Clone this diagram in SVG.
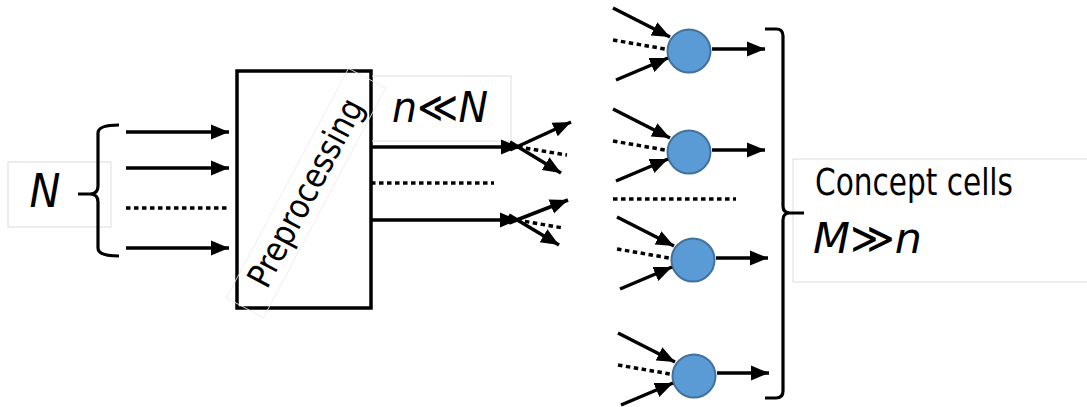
<svg xmlns="http://www.w3.org/2000/svg" width="1087" height="407" viewBox="0 0 1087 407">
<style>
.ln{stroke:#000;stroke-width:3.5;fill:none}
.ar{stroke:#000;stroke-width:3.5;fill:none;marker-end:url(#ah)}
.dt{stroke:#000;stroke-width:3.5;fill:none;stroke-dasharray:4.5 3.5}
.br{stroke:#000;stroke-width:3.2;fill:none;stroke-linejoin:round}
.bx{stroke:#dcdcdc;stroke-width:1;fill:none}
.cell{fill:#5b9bd5;stroke:#41719c;stroke-width:2}
.t{font-family:"DejaVu Sans Condensed","DejaVu Sans",sans-serif;font-stretch:condensed;fill:#000}
.it{font-style:italic}
</style>
<defs>
<marker id="ah" markerUnits="userSpaceOnUse" markerWidth="19" markerHeight="16" refX="18" refY="8" orient="auto">
<path d="M0,0.5 L18,8 L0,15.5 z" fill="#000"/>
</marker>
</defs>
<rect width="1087" height="407" fill="#fff"/>

<g id="label-N">
<rect class="bx" x="8" y="162" width="103" height="65"/>
<text class="t it" x="45" y="207" font-size="46" text-anchor="middle">N</text>
</g>

<g id="preprocessing">
<rect x="237" y="71" width="134" height="237" fill="#fff" stroke="#000" stroke-width="3.5"/>
<g transform="translate(306,193) rotate(-62)">
<rect x="-130" y="-21" width="260" height="42" fill="none" stroke="#ececec" stroke-width="0.8"/>
<text class="t" x="0" y="11" font-size="34" text-anchor="middle" textLength="208" lengthAdjust="spacingAndGlyphs">Preprocessing</text>
</g>
</g>

<g id="label-n">
<path class="bx" d="M372,76 H511 V141 H372"/>
<text class="t it" x="392" y="122" font-size="43" textLength="96" lengthAdjust="spacingAndGlyphs">n≪N</text>
</g>

<g id="label-concept">
<path class="bx" d="M1087,159 H793 V282 H1087"/>
<text class="t" x="815" y="195" font-size="38" textLength="198" lengthAdjust="spacingAndGlyphs">Concept cells</text>
<text class="t it" x="813" y="253" font-size="43" textLength="109" lengthAdjust="spacingAndGlyphs">M≫n</text>
</g>

<g id="cell1"><circle class="cell" cx="689" cy="51" r="21.5"/></g>
<g id="cell2"><circle class="cell" cx="689" cy="152" r="21.5"/></g>
<g id="cell3"><circle class="cell" cx="693" cy="260" r="21.5"/></g>
<g id="cell4"><circle class="cell" cx="694" cy="376" r="21.5"/></g>

<g id="connectors">
<path class="br" d="M119,125 Q98,125 98,133 L98,186 Q98,194 90,194 L78,194 M90,194 Q98,194 98,202 L98,248 Q98,256 119,256"/>
<line class="ar" x1="126" y1="132" x2="229" y2="132"/>
<line class="ar" x1="126" y1="168" x2="229" y2="168"/>
<line class="dt" x1="126" y1="208" x2="230" y2="208"/>
<line class="ar" x1="126" y1="248" x2="229" y2="248"/>
<line class="ar" x1="371" y1="147" x2="519" y2="147"/>
<line class="dt" x1="371" y1="183" x2="494" y2="183"/>
<line class="ar" x1="371" y1="220" x2="518" y2="220"/>
<line class="ar" x1="510" y1="150" x2="571" y2="122"/>
<line class="dt" x1="518" y1="147" x2="567" y2="155"/>
<line class="ar" x1="510" y1="142" x2="561" y2="173"/>
<line class="ar" x1="509" y1="223" x2="568" y2="200"/>
<line class="dt" x1="517" y1="220" x2="563" y2="228"/>
<line class="ar" x1="509" y1="215" x2="559" y2="245"/>
<line class="dt" x1="613" y1="199" x2="736" y2="199"/>
<line class="ar" x1="613" y1="8" x2="670" y2="37"/>
<line class="dt" x1="613" y1="40" x2="665" y2="49"/>
<line class="ar" x1="616" y1="80" x2="668" y2="58"/>
<line class="ar" x1="712" y1="49" x2="765" y2="49"/>
<line class="ar" x1="613" y1="109" x2="670" y2="138"/>
<line class="dt" x1="613" y1="141" x2="665" y2="150"/>
<line class="ar" x1="616" y1="181" x2="668" y2="159"/>
<line class="ar" x1="712" y1="150" x2="765" y2="150"/>
<line class="ar" x1="617" y1="217" x2="674" y2="246"/>
<line class="dt" x1="617" y1="249" x2="669" y2="258"/>
<line class="ar" x1="620" y1="289" x2="672" y2="267"/>
<line class="ar" x1="716" y1="258" x2="768" y2="258"/>
<line class="ar" x1="618" y1="333" x2="675" y2="362"/>
<line class="dt" x1="618" y1="365" x2="670" y2="374"/>
<line class="ar" x1="621" y1="405" x2="673" y2="383"/>
<line class="ar" x1="717" y1="373" x2="769" y2="373"/>
<path class="br" d="M765,29 L776,29 Q783,29 783,36 L783,206 Q783,213 790,213 L804,213 M790,213 Q783,213 783,220 L783,391 Q783,398 776,398 L765,398"/>
</g>
</svg>
